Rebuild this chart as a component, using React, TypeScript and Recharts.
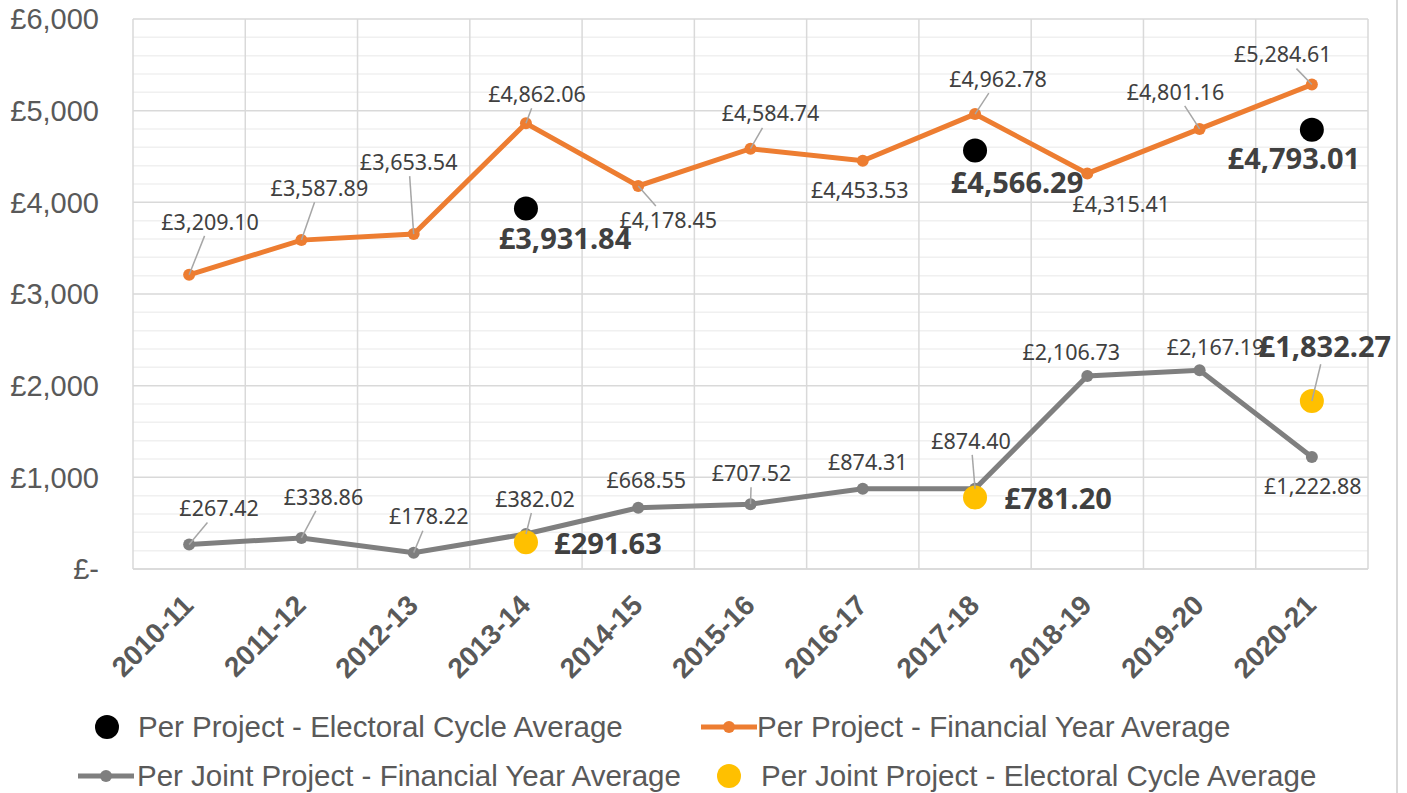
import { CartesianGrid, LabelList, Line, LineChart, XAxis, YAxis } from 'recharts'

const years = ['2010-11', '2011-12', '2012-13', '2013-14', '2014-15', '2015-16', '2016-17', '2017-18', '2018-19', '2019-20', '2020-21']
const perProjectFY = [3209.1, 3587.89, 3653.54, 4862.06, 4178.45, 4584.74, 4453.53, 4962.78, 4315.41, 4801.16, 5284.61]
const perJointFY = [267.42, 338.86, 178.22, 382.02, 668.55, 707.52, 874.31, 874.4, 2106.73, 2167.19, 1222.88]
const perProjectEC = [null, null, null, 3931.84, null, null, null, 4566.29, null, null, 4793.01]
const perJointEC = [null, null, null, 291.63, null, null, null, 781.2, null, null, 1832.27]
const yTicks = [0, 1000, 2000, 3000, 4000, 5000, 6000]
const yMax = 6000

const data = years.map((year, i) => ({
  year,
  ppFY: perProjectFY[i],
  pjFY: perJointFY[i],
  ppEC: perProjectEC[i],
  pjEC: perJointEC[i],
}))

// label offsets from the point: [dx, dy, leader line?]
type Place = [number, number, boolean] | null
const ppFYPlace: Place[] = [
  [21, -53, true], [18, -52, true], [-5, -72, true], [11, -29, true], [30, 34, true], [20, -35, true],
  [-3, 30, false], [23, -35, true], [34, 31, false], [-24, -37, true], [-29, -30, true],
]
const pjFYPlace: Place[] = [
  [30, -36, true], [22, -41, true], [15, -36, true], [9, -35, true], [8, -27, false], [1, -31, true],
  [5, -27, false], [-4, -48, true], [-16, -24, false], [16, -23, false], [1, 29, false],
]
const ppECPlace: Place[] = [null, null, null, [39, 30, false], null, null, null, [42, 32, false], null, null, [-18, 29, false]]
const pjECPlace: Place[] = [null, null, null, [82, 1, false], null, null, null, [83, 1, false], null, null, [13, -54, true]]

const W = 1407
const H = 793
const M = { top: 19, right: 39, left: 0, bottom: 104 }
const Y_AXIS_W = 133
const X_AXIS_H = 120
const PLOT_W = W - M.left - M.right - Y_AXIS_W
const HALF_BAND = PLOT_W / years.length / 2

const money = (v: number) => '£' + v.toLocaleString('en-GB', { minimumFractionDigits: 2, maximumFractionDigits: 2 })

function textWidth(s: string, fs: number) {
  let w = 0
  for (const c of s) w += c === ',' || c === '.' ? 0.27 : 0.572
  return w * fs
}

function makeLabel(place: Place[], fs: number, bold: boolean) {
  return (props: any) => {
    const { x, y, value, index } = props
    if (value == null || x == null || y == null) return null
    const p = place[index]
    if (!p) return null
    const [dx, dy, leader] = p
    const text = money(Number(value))
    const cx = x + dx
    const cy = y + dy
    let line = null
    if (leader) {
      const hw = textWidth(text, fs) / 2 + 4
      const hh = fs * 0.42 + 5
      const vx = x - cx
      const vy = y - cy
      const s = Math.min(vx !== 0 ? hw / Math.abs(vx) : Infinity, vy !== 0 ? hh / Math.abs(vy) : Infinity)
      if (s < 1) {
        line = <line x1={x} y1={y} x2={cx + vx * s} y2={cy + vy * s} stroke="#a6a6a6" strokeWidth={1.5} />
      }
    }
    return (
      <g>
        {line}
        <text
          x={cx}
          y={cy}
          dy="0.36em"
          textAnchor="middle"
          fontFamily="'Noto Sans', sans-serif"
          fontSize={fs}
          fontWeight={bold ? 700 : 400}
          fill="#404040"
        >
          {text}
        </text>
      </g>
    )
  }
}

function XTick(props: any) {
  const { x, y, payload } = props
  const tx = x + 6
  const ty = y + 30
  return (
    <text
      x={tx}
      y={ty}
      transform={`rotate(-45, ${tx}, ${ty})`}
      textAnchor="end"
      fontFamily="'Liberation Sans', Arial, sans-serif"
      fontWeight={700}
      fontSize={28}
      fill="#595959"
    >
      {payload.value}
    </text>
  )
}

const fallbackOffset = {
  left: M.left + Y_AXIS_W,
  top: M.top,
  width: PLOT_W,
  height: H - M.top - M.bottom - X_AXIS_H,
}

const minorH = ({ offset }: any) => {
  const o = offset ?? fallbackOffset
  const out: number[] = []
  for (let v = 200; v < yMax; v += 200) if (v % 1000 !== 0) out.push(o.top + o.height * (1 - v / yMax))
  return out
}
const majorH = ({ offset }: any) => {
  const o = offset ?? fallbackOffset
  return yTicks.map(v => o.top + o.height * (1 - v / yMax))
}
const majorV = ({ offset }: any) => {
  const o = offset ?? fallbackOffset
  return Array.from({ length: years.length + 1 }, (_, i) => o.left + (o.width * i) / years.length)
}

const legendFont = { fontFamily: "'Liberation Sans', Arial, sans-serif", fontSize: 29.5, color: '#595959' }

function LegendRow({ top, items }: { top: number; items: { kind: 'dot' | 'line'; color: string; cx: number; tx: number; label: string }[] }) {
  return (
    <>
      {items.map(it => (
        <div key={it.label}>
          <svg style={{ position: 'absolute', left: it.cx - 30, top: top - 15 }} width={60} height={30}>
            {it.kind === 'dot' ? (
              <circle cx={30} cy={15} r={12} fill={it.color} />
            ) : (
              <>
                <line x1={2} y1={15} x2={58} y2={15} stroke={it.color} strokeWidth={5} />
                <circle cx={30} cy={15} r={6} fill={it.color} />
              </>
            )}
          </svg>
          <div style={{ ...legendFont, position: 'absolute', left: it.tx, top: top - 17, lineHeight: '34px', whiteSpace: 'nowrap' }}>
            {it.label}
          </div>
        </div>
      ))}
    </>
  )
}

export default function App() {
  return (
    <div style={{ position: 'relative', width: W, height: H, background: '#fff', overflow: 'hidden' }}>
      <style>{'body{margin:0}'}</style>
      <LineChart width={W} height={H} data={data} margin={M}>
        <CartesianGrid horizontalCoordinatesGenerator={minorH} vertical={false} stroke="#f0f0f0" strokeWidth={1.5} />
        <CartesianGrid
          horizontalCoordinatesGenerator={majorH}
          verticalCoordinatesGenerator={majorV}
          stroke="#d9d9d9"
          strokeWidth={1.5}
        />
        <XAxis
          dataKey="year"
          interval={0}
          height={X_AXIS_H}
          padding={{ left: HALF_BAND, right: HALF_BAND }}
          tickLine={false}
          axisLine={{ stroke: '#d9d9d9', strokeWidth: 1.5 }}
          tick={<XTick />}
        />
        <YAxis
          domain={[0, yMax]}
          ticks={yTicks}
          width={Y_AXIS_W}
          axisLine={false}
          tickLine={false}
          tickMargin={28}
          tick={{ fill: '#595959', fontSize: 29, fontFamily: "'Liberation Sans', Arial, sans-serif" }}
          tickFormatter={(v: number) => (v === 0 ? '£-' : '£' + v.toLocaleString('en-GB'))}
        />
        <Line
          dataKey="ppFY"
          stroke="#ed7d31"
          strokeWidth={5}
          dot={{ r: 6, fill: '#ed7d31', stroke: 'none' }}
          activeDot={false}
          isAnimationActive={false}
        >
          <LabelList dataKey="ppFY" content={makeLabel(ppFYPlace, 21.5, false)} />
        </Line>
        <Line
          dataKey="pjFY"
          stroke="#7f7f7f"
          strokeWidth={5}
          dot={{ r: 6, fill: '#7f7f7f', stroke: 'none' }}
          activeDot={false}
          isAnimationActive={false}
        >
          <LabelList dataKey="pjFY" content={makeLabel(pjFYPlace, 21.5, false)} />
        </Line>
        <Line
          dataKey="ppEC"
          stroke="none"
          dot={{ r: 12, fill: '#000000', stroke: 'none' }}
          activeDot={false}
          isAnimationActive={false}
        >
          <LabelList dataKey="ppEC" content={makeLabel(ppECPlace, 29, true)} />
        </Line>
        <Line
          dataKey="pjEC"
          stroke="none"
          dot={{ r: 12, fill: '#ffc000', stroke: 'none' }}
          activeDot={false}
          isAnimationActive={false}
        >
          <LabelList dataKey="pjEC" content={makeLabel(pjECPlace, 29, true)} />
        </Line>
      </LineChart>
      <LegendRow
        top={727}
        items={[
          { kind: 'dot', color: '#000000', cx: 107, tx: 138, label: 'Per Project - Electoral Cycle Average' },
          { kind: 'line', color: '#ed7d31', cx: 729, tx: 757, label: 'Per Project - Financial Year Average' },
        ]}
      />
      <LegendRow
        top={776}
        items={[
          { kind: 'line', color: '#7f7f7f', cx: 106, tx: 137, label: 'Per Joint Project - Financial Year Average' },
          { kind: 'dot', color: '#ffc000', cx: 729, tx: 761, label: 'Per Joint Project - Electoral Cycle Average' },
        ]}
      />
      <div style={{ position: 'absolute', left: 1396, top: 0, width: 2, height: H, background: '#d9d9d9' }} />
    </div>
  )
}
